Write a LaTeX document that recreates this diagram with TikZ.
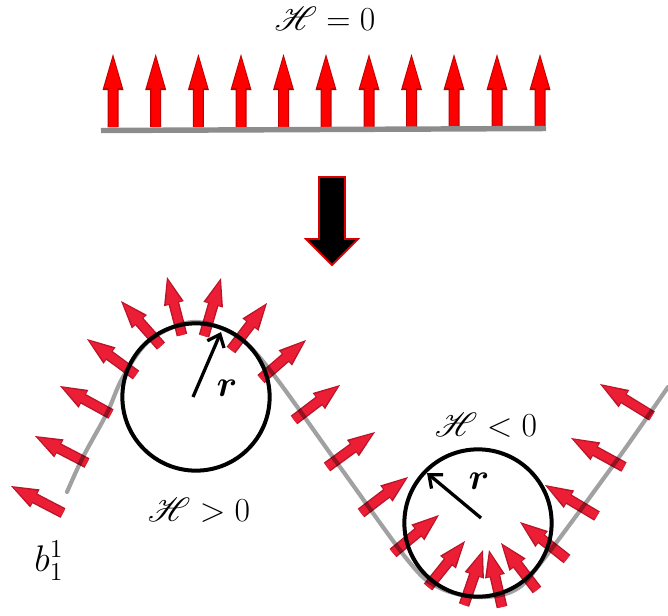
\documentclass[tikz,border=0pt]{standalone}
\usepackage{amsmath,amssymb,amsfonts}
\usepackage{mathrsfs}
\usepackage{xcolor}
\usepackage{tikz}
\usetikzlibrary{arrows.meta}
\definecolor{spinred}{RGB}{236,30,54}
\definecolor{spindark}{RGB}{186,20,40}
\definecolor{uprightdark}{RGB}{190,0,0}
\begin{document}
\begin{tikzpicture}[
  x=0.55pt, y=-0.55pt,
  lbl/.style={font=\LARGE, inner sep=0pt, scale=1.07},
  sym/.style={font=\LARGE, inner sep=0pt, scale=1.18},
  ring/.style={circle, draw=black, line width=2.2pt, minimum size=81pt, inner sep=0pt},
  rline/.style={-{Straight Barb[length=6pt,width=10pt]}, line width=1.8pt, draw=black},
  flat/.style={draw=black!45, line width=3pt},
  surface/.style={draw=black, opacity=0.37, line width=2.3pt, line cap=round},
  bigarrow/.style={fill=black, draw=red!85!black, line width=1pt, line join=miter}
]
\useasboundingbox (0,0) rectangle (668,615);
%% ── Flat sheet with upright arrows ──────────────────────────────────────
\node[lbl] (hzero) at (325,19) {$\mathscr{H}=0$};
\foreach \px in {113,155.7,198.4,241,283.5,326,369,411.5,454,497,540}{
  \begin{scope}[shift={(\px,0)}]
    \fill[uprightdark] (-5.5,127) -- (-5.5,90) -- (-10.5,90) -- (0,54)
      -- (10.5,90) -- (5.5,90) -- (5.5,127) -- cycle;
    \fill[red] (-4.3,127) -- (-4.3,88) -- (-8.8,88) -- (0,57)
      -- (8.8,88) -- (4.3,88) -- (4.3,127) -- cycle;
  \end{scope}
}
\coordinate (flatL) at (101,130.5);
\coordinate (flatR) at (546,128.5);
\draw[flat] (flatL) -- (flatR);
%% ── Block arrow between the two states ──────────────────────────────────
\draw[bigarrow] (319,177) -- (345,177) -- (345,239) -- (358,239) -- (332,265)
  -- (306,239) -- (319,239) -- cycle;
%% ── Tilted arrows, foot to tip ──────────────────────────────────────────
\foreach \bx/\by/\tx/\ty in {63/513/11/486, 87/463/35/436, 111/414/60/386,
    136/375/87/339, 161/346/121/301, 182/335/167/277, 204/336/221/278,
    231/350/267/303, 261/379/306/340, 294/420/340/385, 327/467/375/432,
    361/513/408/477, 393/553/439/515, 428/587/465/541, 464/605/483/550,
    502/607/489/550, 537/590/501/543, 567/559/520/522, 597/516/545/485,
    624/467/571/438, 652/416/600/384}{
  \pgfmathsetmacro\ang{atan2(\by-\ty,\tx-\bx)}
  \pgfmathsetmacro\len{veclen(\tx-\bx,\ty-\by)}
  \pgfmathsetmacro\neck{0.54*\len}
  \begin{scope}[shift={(\bx,\by)}, rotate=\ang]
    \fill[spindark] (0,-5.4) -- (\neck,-5.4) -- (\neck,-10.2) -- (\len,0)
      -- (\neck,10.2) -- (\neck,5.4) -- (0,5.4) -- cycle;
    \fill[spinred] (0,-4) -- (\neck+1,-4) -- (\neck+1,-8) -- (\len-3,0)
      -- (\neck+1,8) -- (\neck+1,4) -- (0,4) -- cycle;
  \end{scope}
}
%% ── Curved sheet, over the arrows ───────────────────────────────────────
\draw[surface] plot[smooth, tension=0.55] coordinates {(67,492) (83,457) (107,413)
  (123,377) (150,340) (193,322) (235,335) (270,370) (340,467) (410,563)
  (440,588) (478,597) (515,590) (543,560) (617,460) (668,387)};
%% ── Osculating circles ──────────────────────────────────────────────────
\node[ring] (ringL) at (196,397) {};
\node[ring] (ringR) at (478,523) {};
\coordinate (rootL) at (193,397);
\coordinate (tipL)  at (221,332);
\coordinate (rootR) at (481,518);
\coordinate (tipR)  at (427,473);
\draw[rline] (rootL) -- (tipL);
\draw[rline] (rootR) -- (tipR);
%% ── Labels ──────────────────────────────────────────────────────────────
\node[sym] (rL)    at (227,388) {$\boldsymbol{r}$};
\node[sym] (rR)    at (479,481) {$\boldsymbol{r}$};
\node[lbl] (hpos)  at (199,510) {$\mathscr{H}>0$};
\node[lbl] (hneg)  at (486,425) {$\mathscr{H}<0$};
\node[sym] (bone)  at (49,561)  {$b_1^1$};
\end{tikzpicture}
\end{document}
